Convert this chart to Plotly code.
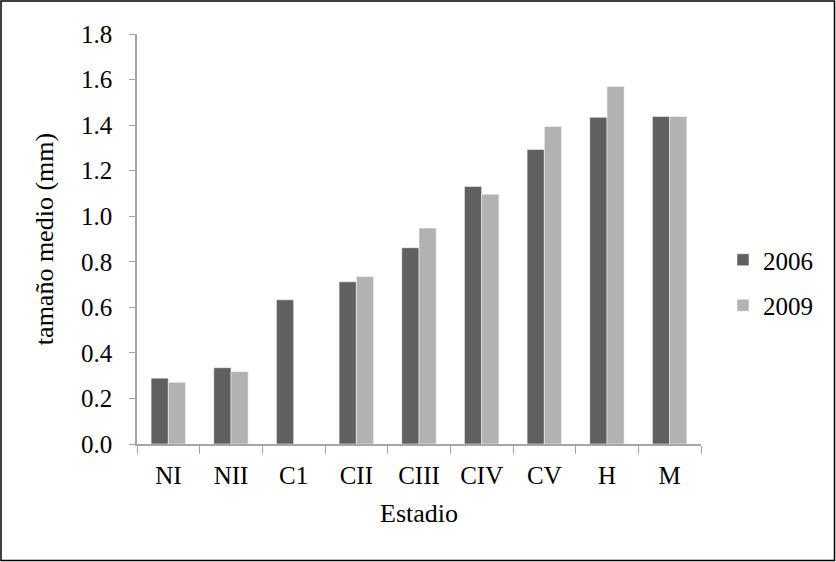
import plotly.graph_objects as go

categories = ["NI", "NII", "C1", "CII", "CIII", "CIV", "CV", "H", "M"]
vals_2006 = [0.289, 0.335, 0.633, 0.712, 0.862, 1.131, 1.293, 1.434, 1.438]
vals_2009 = [0.271, 0.318, None, 0.735, 0.948, 1.097, 1.394, 1.570, 1.438]
series_names = ["2006", "2009"]
y_ticks = [0.0, 0.2, 0.4, 0.6, 0.8, 1.0, 1.2, 1.4, 1.6, 1.8]

W, H = 836, 562
ml, mr, mt, mb = 137, 135, 34, 118
font = dict(family="Liberation Serif, Times New Roman, serif", size=26, color="#000000")
tickfont = dict(family="Liberation Serif, Times New Roman, serif", size=25, color="#000000")

fig = go.Figure()
fig.add_trace(go.Bar(x=categories, y=vals_2006, name=series_names[0],
                     marker=dict(color="#606060", line=dict(color="#ffffff", width=0.5)),
                     legendgroup="a"))
fig.add_trace(go.Bar(x=categories, y=vals_2009, name=series_names[1],
                     marker=dict(color="#b2b2b2", line=dict(color="#ffffff", width=0.5)),
                     legendgroup="b"))

pw = W - ml - mr
ph = H - mt - mb
fig.update_layout(
    width=W, height=H,
    margin=dict(l=ml, r=mr, t=mt, b=mb, autoexpand=False),
    paper_bgcolor="white", plot_bgcolor="white",
    font=font,
    barmode="group", bargap=0.45, bargroupgap=0,
    showlegend=True,
    legend=dict(x=(723 - ml) / pw, y=(H - mb - 237) / ph, xanchor="left", yanchor="top",
                traceorder="grouped", tracegroupgap=10, font=tickfont,
                bgcolor="rgba(0,0,0,0)"),
    xaxis=dict(title=dict(text="Estadio", font=font, standoff=16),
               showline=True, linecolor="#a6a6a6", linewidth=1.5,
               ticks="outside", tickson="boundaries", ticklen=8, tickcolor="#a6a6a6",
               ticklabelstandoff=8,
               tickfont=tickfont, showgrid=False, automargin=False),
    yaxis=dict(title=dict(text="tamaño medio (mm)", font=font, standoff=20),
               range=[0, 1.8], tickvals=y_ticks, tickformat=".1f",
               showline=True, linecolor="#a6a6a6", linewidth=1.5,
               ticks="outside", ticklen=6, tickcolor="#a6a6a6", ticklabelstandoff=12,
               tickfont=tickfont, showgrid=False, zeroline=False, automargin=False),
    shapes=[dict(type="rect", xref="paper", yref="paper",
                 x0=(1 - ml) / pw, x1=(W - 1.5 - ml) / pw,
                 y0=-(mb - 1.5) / ph, y1=1 + (mt - 1) / ph,
                 line=dict(color="#000000", width=1.5), fillcolor="rgba(0,0,0,0)")],
)

fig.write_html("out.html", config={"displayModeBar": False},
               post_script="document.body.style.margin='0';")
